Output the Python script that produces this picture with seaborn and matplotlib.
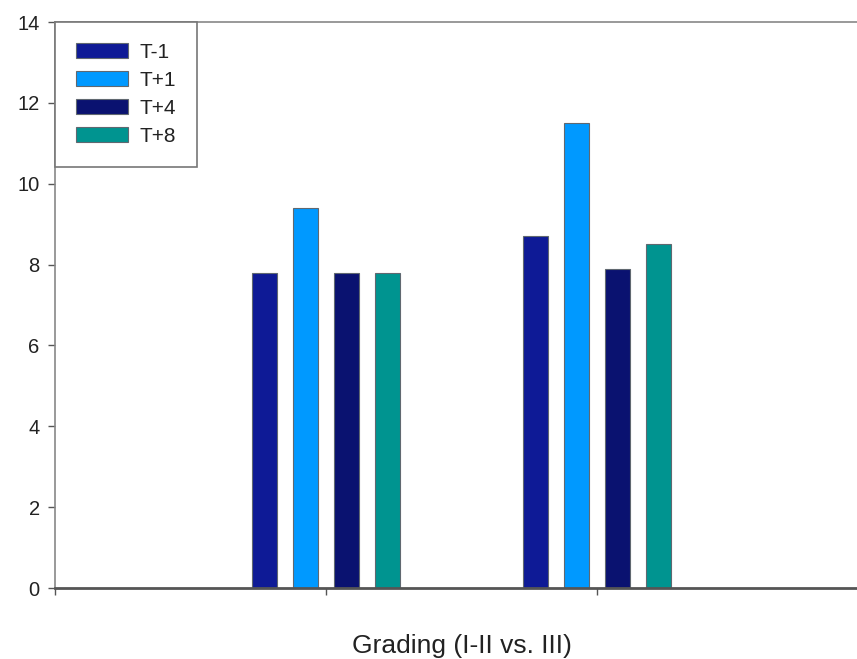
import matplotlib
matplotlib.use("Agg")
import matplotlib.pyplot as plt
import seaborn as sns
import pandas as pd

groups = ["I-II", "III"]
series = ["T-1", "T+1", "T+4", "T+8"]
values = {
    "T-1": [7.8, 8.7],
    "T+1": [9.4, 11.5],
    "T+4": [7.8, 7.9],
    "T+8": [7.8, 8.5],
}
colors = ["#0e1a96", "#0099ff", "#0a1270", "#009490"]
y_ticks = [0, 2, 4, 6, 8, 10, 12, 14]
x_label = "Grading (I-II vs. III)"

rows = []
for s in series:
    for g, v in zip(groups, values[s]):
        rows.append({"group": g, "series": s, "value": v})
df = pd.DataFrame(rows)

sns.set_style("white")
plt.rcParams["font.family"] = ["Liberation Sans", "DejaVu Sans"]

fig = plt.figure(figsize=(8.57, 6.59), dpi=100)
ax = fig.add_axes([0.0642, 0.1077, 0.9487, 0.8589])

sns.barplot(data=df, x="group", y="value", hue="series", hue_order=series,
            palette=colors, width=0.604, gap=0.39, edgecolor="#606870",
            linewidth=0.8, saturation=1, ax=ax, legend=True)

ax.set_xlim(-1, 2)
ax.set_xticks([-1, 0, 1, 2])
ax.set_xticklabels([])
ax.set_ylim(0, 14)
ax.set_yticks(y_ticks)
ax.set_yticklabels([str(t) for t in y_ticks], fontsize=14.5, color="#222222")
ax.tick_params(axis="both", direction="out", length=5, width=1, color="#555555",
               bottom=True, left=True, pad=6)
ax.set_ylabel("")
ax.set_xlabel(x_label, fontsize=19, color="#222222", labelpad=22)

for side in ["left", "top", "right"]:
    ax.spines[side].set_color("#888888")
    ax.spines[side].set_linewidth(1.2)
ax.spines["bottom"].set_color("#555555")
ax.spines["bottom"].set_linewidth(2)

handles, labels = ax.get_legend_handles_labels()
ax.legend(handles, labels, loc="upper left", bbox_to_anchor=(0, 1),
          borderaxespad=0, fancybox=False, framealpha=1, edgecolor="#777777",
          fontsize=15, handlelength=2.5, handleheight=0.77, labelspacing=0.43,
          handletextpad=0.55, borderpad=1.0, title=None)
ax.get_legend().get_frame().set_linewidth(1.2)
for t in ax.get_legend().get_texts():
    t.set_color("#222222")

fig.savefig("out.png", dpi=100)
